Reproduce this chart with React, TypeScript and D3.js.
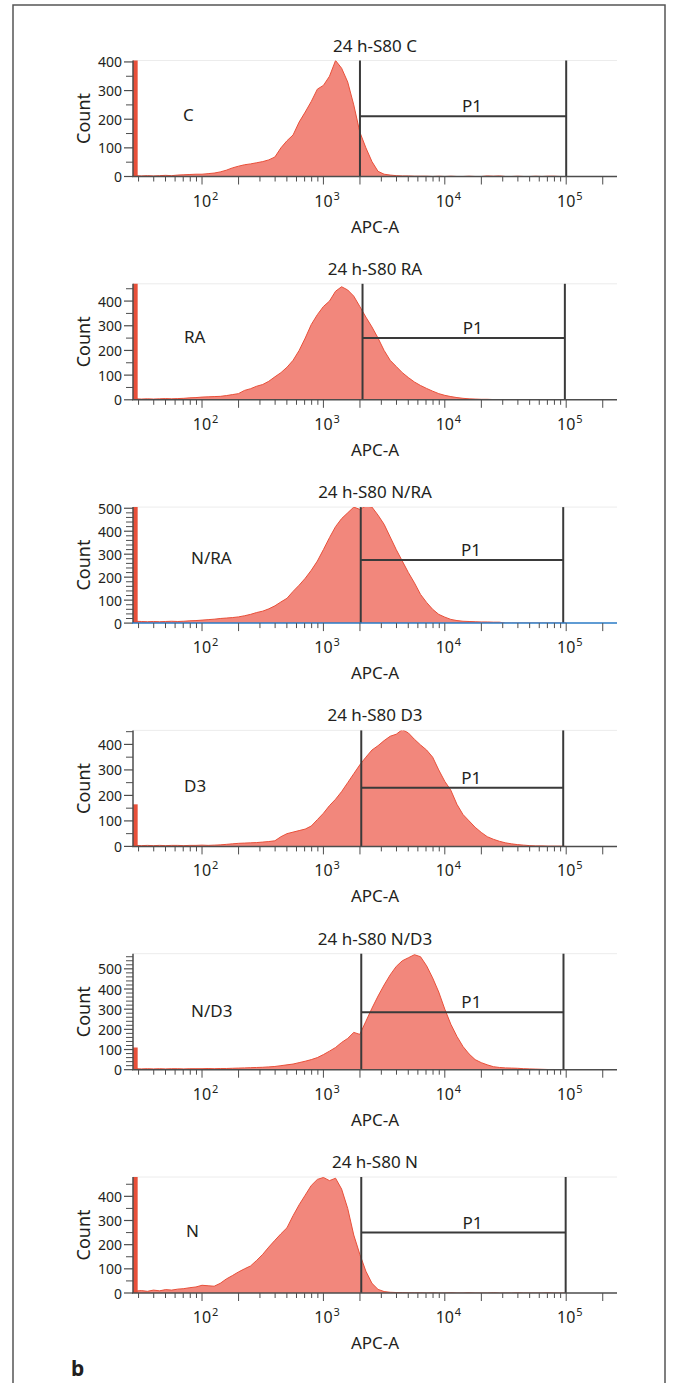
import React, { useEffect } from "react";
import * as d3 from "d3";

// panel titles and the sample names written inside each plot
const titles = ["24 h-S80 C", "24 h-S80 RA", "24 h-S80 N/RA", "24 h-S80 D3", "24 h-S80 N/D3", "24 h-S80 N"];
const samples = ["C", "RA", "N/RA", "D3", "N/D3", "N"];

// y axis top (Count) of each panel
const yMax = [405, 470, 505, 455, 575, 480];
const yMinorStep = [50, 50, 20, 50, 20, 50];

// P1 gate: APC-A limits and the height of its marker line
const gateLow = [2000, 2100, 2030, 2050, 2050, 2050];
const gateHigh = [100000, 97500, 94500, 94500, 95000, 99000];
const gateCount = [210, 250, 275, 230, 285, 250];

// events piled up on the lowest channel
const edgeCounts = [600, 600, 600, 165, 110, 600];

// histogram bins: log10(APC-A) from 1.45 to 5.00, 0.05 apart
const binLog = d3.range(72).map((k) => 1.45 + k * 0.05);

const countsC = [
  3, 2, 3, 2, 3, 4, 3, 5, 6, 7, 8, 8, 10, 12, 16, 22, 30, 36, 41, 44,
  48, 52, 58, 68, 100, 125, 145, 190, 225, 262, 305, 318, 350, 405, 378, 330, 250, 155, 100, 52,
  18, 8, 5, 3, 2, 2, 1, 1, 1, 0, 1, 0, 1, 0, 0, 1, 0, 0, 2, 1,
  2, 0, 0, 1, 0, 0, 1, 0, 1, 1, 0, 0,
];
const countsRA = [
  4, 3, 4, 3, 4, 5, 4, 5, 6, 8, 9, 11, 12, 13, 14, 17, 21, 25, 38, 45,
  55, 62, 75, 93, 110, 132, 160, 200, 250, 305, 345, 378, 400, 440, 458, 445, 420, 378, 335, 295,
  250, 200, 160, 135, 110, 90, 72, 58, 46, 35, 25, 18, 13, 9, 6, 4, 3, 2, 2, 1,
  1, 1, 0, 1, 0, 1, 0, 0, 1, 0, 1, 0,
];
const countsNRA = [
  8, 7, 6, 7, 6, 7, 8, 7, 8, 10, 11, 13, 15, 17, 20, 22, 24, 27, 32, 38,
  46, 52, 62, 75, 92, 108, 138, 165, 195, 230, 270, 320, 372, 420, 455, 480, 505, 495, 510, 505,
  470, 430, 375, 320, 270, 220, 175, 125, 90, 60, 38, 26, 16, 11, 8, 7, 6, 5, 5, 4,
  4, 0, 0, 0, 0, 0, 0, 0, 0, 0, 0, 0,
];
const countsD3 = [
  4, 3, 4, 3, 4, 3, 4, 4, 3, 4, 4, 5, 4, 5, 6, 8, 10, 12, 13, 14,
  15, 17, 19, 22, 38, 50, 56, 62, 68, 80, 105, 130, 160, 185, 215, 250, 285, 320, 350, 378,
  395, 415, 432, 440, 458, 445, 420, 398, 378, 350, 300, 255, 220, 165, 125, 100, 75, 55, 38, 28,
  20, 14, 10, 7, 5, 3, 2, 2, 1, 1, 1, 0,
];
const countsND3 = [
  5, 4, 5, 4, 5, 4, 5, 5, 4, 5, 5, 5, 6, 5, 6, 6, 7, 8, 9, 10,
  11, 12, 14, 16, 20, 24, 28, 35, 42, 50, 60, 75, 92, 110, 135, 155, 185, 175, 240, 305,
  365, 420, 470, 512, 540, 555, 570, 560, 515, 455, 385, 300, 225, 165, 115, 78, 50, 35, 24, 15,
  11, 9, 8, 7, 5, 4, 3, 2, 1, 1, 0, 0,
];
const countsN = [
  8, 10, 7, 12, 9, 14, 12, 16, 18, 22, 25, 32, 30, 28, 40, 58, 72, 87, 100, 112,
  135, 160, 190, 218, 245, 270, 320, 365, 405, 445, 470, 478, 465, 475, 430, 350, 240, 160, 90, 40,
  15, 6, 3, 2, 2, 1, 1, 1, 0, 1, 0, 0, 1, 0, 0, 1, 0, 0, 0, 1,
  0, 0, 0, 1, 0, 0, 0, 0, 1, 0, 0, 0,
];
const panelCounts = [countsC, countsRA, countsNRA, countsD3, countsND3, countsN];

// x tick labels (exponents of 10)
const decadeLabels = [2, 3, 4, 5];

const FONT = "'Noto Sans', 'Open Sans', sans-serif";
const TEXT = "#231f20";
const AXIS = "#4d4d4d";
const FILL = "#f2877c";
const STROKE = "#e8503a";
const GATE = "#3a3a3a";

const W = 676;
const H = 1383;
const AXIS0 = 176.5;
const PITCH = 223.3;
const PLOT_H = 116;
const labelDx = [50, 51, 58, 51, 58, 53];

const x = d3.scaleLog().domain([27, 262144]).range([133, 617]);

// minor / major x ticks inside the domain
const xTicks: { v: number; long: boolean }[] = [];
for (let d = 1; d <= 5; d++) {
  for (let m = 1; m <= 9; m++) {
    const v = m * Math.pow(10, d);
    if (v >= 27 && v <= 262144) xTicks.push({ v, long: m <= 2 });
  }
}

function Panel({ i }: { i: number }) {
  const axisY = AXIS0 + PITCH * i;
  const top = axisY - PLOT_H;
  const [x0, x1] = x.range();
  const y = d3.scaleLinear().domain([0, yMax[i]]).range([axisY, top]);
  const pts = binLog.map((l, k) => ({ v: Math.pow(10, l), c: panelCounts[i][k] }));

  const area = d3
    .area<{ v: number; c: number }>()
    .x((d) => x(d.v))
    .y0(axisY)
    .y1((d) => y(d.c));
  const line = d3
    .line<{ v: number; c: number }>()
    .x((d) => x(d.v))
    .y((d) => y(d.c));

  const yMajor = d3.range(0, yMax[i] + 1, 100);
  const yMinor = d3.range(0, yMax[i] + 1, yMinorStep[i]).filter((v) => v % 100 !== 0);
  const gx0 = x(gateLow[i]);
  const gx1 = x(gateHigh[i]);
  const gy = y(gateCount[i]);
  const clipId = `clip${i}`;
  const axisColor = i === 2 ? "#2a7bc6" : AXIS;

  return (
    <g>
      <defs>
        <clipPath id={clipId}>
          <rect x={x0} y={top} width={x1 - x0} height={PLOT_H} />
        </clipPath>
      </defs>
      <text x={(x0 + x1) / 2} y={top - 9} textAnchor="middle" fontSize={17} fill={TEXT}>
        {titles[i]}
      </text>
      <line x1={x0} x2={x1} y1={top} y2={top} stroke="#ececec" strokeWidth={1} />

      <g clipPath={`url(#${clipId})`}>
        <path d={area(pts) || ""} fill={FILL} />
        <path d={line(pts) || ""} fill="none" stroke={STROKE} strokeWidth={1} />
        <rect
          x={x(27)}
          y={y(edgeCounts[i])}
          width={x(29.5) - x(27)}
          height={axisY - y(edgeCounts[i])}
          fill={STROKE}
        />
      </g>

      {/* gate P1 */}
      <line x1={gx0} x2={gx0} y1={top} y2={axisY} stroke={GATE} strokeWidth={2} />
      <line x1={gx1} x2={gx1} y1={top} y2={axisY} stroke={GATE} strokeWidth={2} />
      <line x1={gx0} x2={gx1} y1={gy} y2={gy} stroke={GATE} strokeWidth={2} />
      <text x={(gx0 + gx1) / 2 + 9} y={gy - 4} textAnchor="middle" fontSize={17} fill={TEXT}>
        P1
      </text>
      <text x={x0 + labelDx[i]} y={gy - 2} dominantBaseline="central" fontSize={17} fill={TEXT}>
        {samples[i]}
      </text>

      {/* y axis */}
      <line x1={x0} x2={x0} y1={top} y2={axisY} stroke={AXIS} strokeWidth={1.5} />
      {yMinor.map((v) => (
        <line key={"m" + v} x1={x0 - 7} x2={x0} y1={y(v)} y2={y(v)} stroke={AXIS} strokeWidth={1} />
      ))}
      {yMajor.map((v) => (
        <g key={v}>
          <line x1={x0 - 9} x2={x0} y1={y(v)} y2={y(v)} stroke={AXIS} strokeWidth={1.2} />
          <text x={x0 - 11} y={y(v)} textAnchor="end" dominantBaseline="central" fontSize={14} fill={TEXT}>
            {v}
          </text>
        </g>
      ))}
      <text
        transform={`translate(90,${(top + axisY) / 2}) rotate(-90)`}
        textAnchor="middle"
        fontSize={18}
        fill={TEXT}
      >
        Count
      </text>

      {/* x axis */}
      <line x1={x0 - 1} x2={x1} y1={axisY} y2={axisY} stroke={axisColor} strokeWidth={1.5} />
      {xTicks.map((t) => (
        <line
          key={t.v}
          x1={x(t.v)}
          x2={x(t.v)}
          y1={axisY}
          y2={axisY + (t.long ? 8 : 5)}
          stroke={AXIS}
          strokeWidth={1}
        />
      ))}
      {decadeLabels.map((e) => (
        <g key={e}>
          <text x={x(Math.pow(10, e))} y={axisY + 30} textAnchor="middle" fontSize={16} fill={TEXT}>
            10
          </text>
          <text x={x(Math.pow(10, e)) + 10} y={axisY + 23} fontSize={11} fill={TEXT}>
            {e}
          </text>
        </g>
      ))}
      <text x={(x0 + x1) / 2} y={axisY + 56} textAnchor="middle" fontSize={17} fill={TEXT}>
        APC-A
      </text>
    </g>
  );
}

export default function App() {
  useEffect(() => {
    document.body.style.margin = "0";
  }, []);
  return (
    <svg width={W} height={H} style={{ display: "block", background: "#fff" }} fontFamily={FONT}>
      <rect width={W} height={H} fill="#fff" />
      {/* figure frame */}
      <path d={`M13,${H} V5 H665 V${H}`} fill="none" stroke="#555" strokeWidth={1.5} />
      {titles.map((_, i) => (
        <Panel key={i} i={i} />
      ))}
      <text x={71} y={1376} fontSize={21} fontWeight="bold" fill={TEXT}>
        b
      </text>
    </svg>
  );
}
